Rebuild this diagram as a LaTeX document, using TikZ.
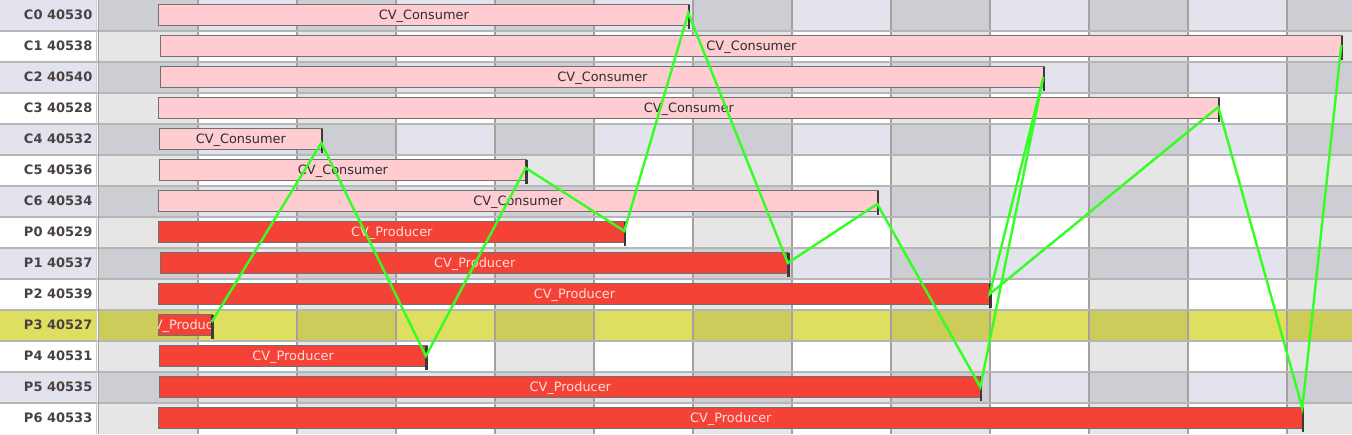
\documentclass[tikz,border=0pt]{standalone}
\usepackage{fontspec}
\setmainfont{DejaVu Sans}
\usepackage{tikz}

\definecolor{rowshade}{HTML}{E2E3EC}
\definecolor{cellshade}{HTML}{CDCED4}
\definecolor{cellplain}{HTML}{E6E6E6}
\definecolor{hilite}{HTML}{DEDE60}
\definecolor{hilitedark}{HTML}{CCCC5A}
\definecolor{vgrid}{HTML}{A89F9F}
\definecolor{hgrid}{HTML}{B6B6B6}
\definecolor{barline}{HTML}{707070}
\definecolor{consumerfill}{HTML}{FFCCD2}
\definecolor{producerfill}{HTML}{F44336}
\definecolor{producertext}{HTML}{FFDCDC}
\definecolor{consumertext}{HTML}{2E2E2E}
\definecolor{labeltext}{HTML}{4A4242}
\definecolor{tickcol}{HTML}{3A3A3A}
\definecolor{linkgreen}{HTML}{33FF22}

\tikzset{
	vline/.style={draw=vgrid, line width=1.1pt},
	hline/.style={draw=hgrid, line width=1.3pt},
	consumer/.style={draw=barline, fill=consumerfill, line width=1.2pt},
	producer/.style={draw=barline, fill=producerfill, line width=1.2pt},
	consumer text/.style={anchor=base, inner sep=0pt, text=consumertext, font=\fontsize{12.9}{15}\selectfont},
	producer text/.style={anchor=base, inner sep=0pt, text=producertext, font=\fontsize{12.9}{15}\selectfont},
	rowlabel/.style={anchor=base east, inner sep=0pt, text=labeltext, font=\fontsize{13}{15}\selectfont\bfseries},
	endtick/.style={draw=tickcol, line width=2.4pt},
	link/.style={draw=linkgreen, line width=2.4pt, line join=miter},
}

\begin{document}
\begin{tikzpicture}[x=1pt, y=-1pt]
	\useasboundingbox (0,0) rectangle (1352,434);
	
	\foreach \r/\light/\dark in {0/rowshade/cellshade, 1/white/cellplain, 2/rowshade/cellshade, 3/white/cellplain, 4/rowshade/cellshade, 5/white/cellplain, 6/rowshade/cellshade, 7/white/cellplain, 8/rowshade/cellshade, 9/white/cellplain, 10/hilite/hilitedark, 11/white/cellplain, 12/rowshade/cellshade, 13/white/cellplain}{
		\fill[\light] (0,\r*31) rectangle (1352,\r*31+31);
		\foreach \x in {99,297,...,1287}
			\fill[\dark] (\x,\r*31) rectangle ({min(\x+99,1352)},\r*31+31);
	}
	\fill[white] (96,0) rectangle (99,434);
	
	\foreach \x in {198,297,...,1287}
		\draw[vline] (\x,0) -- (\x,434);
	\foreach \y in {31,62,...,403}
		\draw[hline] (0,\y) -- (1352,\y);
	\draw[draw=hgrid!70, line width=1pt] (96.5,0) -- (96.5,434);
	\draw[draw=vgrid, line width=1.2pt] (98.8,0) -- (98.8,434);
	
	\foreach \n/\id [count=\r from 0] in {C0/40530, C1/40538, C2/40540, C3/40528, C4/40532, C5/40536, C6/40534, P0/40529, P1/40537, P2/40539, P3/40527, P4/40531, P5/40535, P6/40533}
		\node[rowlabel] (l\n) at (92.5,\r*31+19.3) {\n\ \id};
	
	\foreach \n/\r/\s/\e/\vy/\kind/\txt in {C0/0/158.3/689.3/13/consumer/CV\_Consumer, C1/1/160.7/1342.3/45/consumer/CV\_Consumer, C2/2/160.7/1044.3/77/consumer/CV\_Consumer, C3/3/158.3/1219.3/107/consumer/CV\_Consumer, C4/4/159.3/322.3/143/consumer/CV\_Consumer, C5/5/159.3/526.7/168/consumer/CV\_Consumer, C6/6/158.3/878.3/204/consumer/CV\_Consumer, P0/7/158.3/625.3/231/producer/CV\_Producer, P1/8/160.7/788.8/263/producer/CV\_Producer, P2/9/158.3/990.7/294/producer/CV\_Producer, P3/10/158.3/212.7/322/producer/CV\_Producer, P4/11/159.3/426.9/356/producer/CV\_Producer, P5/12/159.3/981.3/387/producer/CV\_Producer, P6/13/158.3/1303.3/408/producer/CV\_Producer}{
		\draw[\kind] (\s,\r*31+4.5) rectangle (\e,\r*31+25.5);
		\begin{scope}
			\clip (\s,\r*31+4.5) rectangle (\e,\r*31+25.5);
			\node[\kind\space text] (\n) at ({(\s+\e)/2},\r*31+19.3) {\txt};
		\end{scope}
		\draw[endtick] (\e-0.3,\r*31+4.5) -- (\e-0.3,\r*31+28.5);
		\coordinate (\n-end) at (\e-1,\vy);
	}
	
	\draw[link] (P3-end) -- (C4-end) -- (P4-end) -- (C5-end) -- (P0-end) -- (C0-end) -- (P1-end) -- (C6-end) -- (P5-end) -- (C2-end) -- (P2-end) -- (C3-end) -- (P6-end) -- (C1-end);
\end{tikzpicture}
\end{document}
